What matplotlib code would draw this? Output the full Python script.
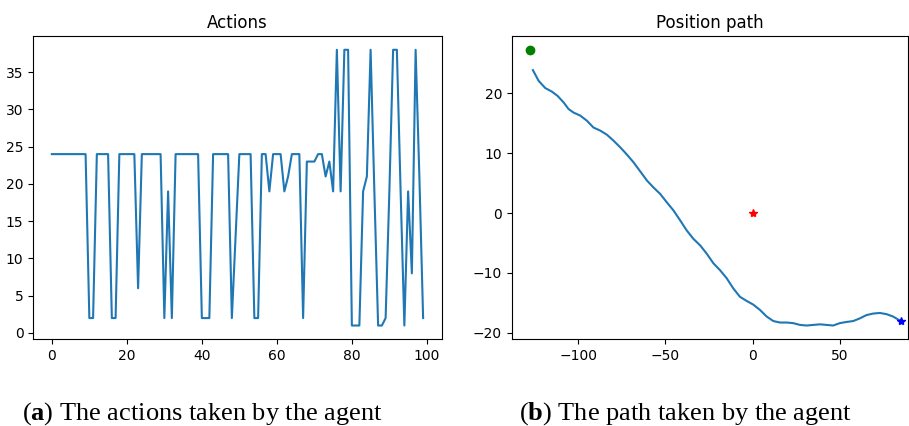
import numpy as np
import matplotlib
matplotlib.use("Agg")
import matplotlib.pyplot as plt

# actions chosen at each step (0..99)
actions = [24] * 10 + [2, 2] + [24] * 4 + [2, 2] + [24] * 5 + [6] + [24] * 6 + \
    [2, 19, 2] + [24] * 7 + [2, 2, 2] + [24] * 5 + [2, 13] + [24] * 4 + [2, 2] + \
    [24, 24, 19, 24, 24, 24, 19, 21, 24, 24, 24, 2, 23, 23, 23, 24, 24, 21, 23, 19,
     38, 19, 38, 38, 1, 1, 1, 19, 21, 38, 19, 1, 1, 2, 19, 38, 38, 19, 1, 19, 8,
     38, 21, 2]
steps = np.arange(len(actions))

# agent position path
path_x = [-125.9, -122.6, -118.8, -115.0, -111.8, -108.3, -105.5, -102.6, -98.8,
          -95.0, -91.2, -87.4, -83.5, -79.7, -75.9, -72.1, -68.3, -64.5, -60.6,
          -56.9, -53.0, -49.2, -45.4, -41.6, -37.8, -34.0, -30.1, -26.3, -22.5,
          -18.7, -14.9, -11.1, -7.3, -3.4, 0.3, 4.2, 8.0, 11.8, 15.6, 19.5, 23.2,
          27.1, 30.9, 34.7, 38.5, 42.3, 46.1, 49.9, 53.8, 57.6, 61.4, 65.2, 69.0,
          72.8, 76.7, 80.4, 84.8]
path_y = [23.9, 22.1, 20.9, 20.3, 19.6, 18.5, 17.4, 16.8, 16.3, 15.45, 14.3, 13.8,
          13.1, 12.1, 11.0, 9.8, 8.5, 7.0, 5.45, 4.3, 3.2, 1.8, 0.45, -1.2, -2.9,
          -4.3, -5.4, -6.8, -8.4, -9.55, -10.9, -12.6, -14.0, -14.7, -15.3, -16.2,
          -17.3, -18.05, -18.3, -18.3, -18.4, -18.7, -18.8, -18.7, -18.6, -18.7,
          -18.8, -18.4, -18.2, -18.05, -17.6, -17.05, -16.8, -16.7, -16.9, -17.3,
          -18.05]
start = (-127.4, 27.3)
origin = (0, 0)
goal = (84.8, -18.05)

plt.rcParams['mathtext.fontset'] = 'custom'
plt.rcParams['mathtext.bf'] = 'Liberation Serif:bold'
plt.rcParams['mathtext.rm'] = 'Liberation Serif'

fig = plt.figure(figsize=(9.09, 4.26), dpi=100)
ax1 = fig.add_axes([0.0366, 0.2035, 0.4493, 0.712])
ax2 = fig.add_axes([0.563, 0.2035, 0.436, 0.712])

ax1.plot(steps, actions)
ax1.set_title("Actions")

ax2.plot(start[0], start[1], 'go')
ax2.plot(path_x, path_y)
ax2.plot(origin[0], origin[1], 'r*')
ax2.plot(goal[0], goal[1], 'b*')
ax2.set_xlim(-138, 89)
ax2.set_title("Position path")

cap = dict(fontsize=19, family='Liberation Serif', ha='center', va='baseline')
fig.text(0.223, 0.014, r"($\mathbf{a}$) The actions taken by the agent", **cap)
fig.text(0.754, 0.014, r"($\mathbf{b}$) The path taken by the agent", **cap)

fig.savefig("out.png", dpi=100)
